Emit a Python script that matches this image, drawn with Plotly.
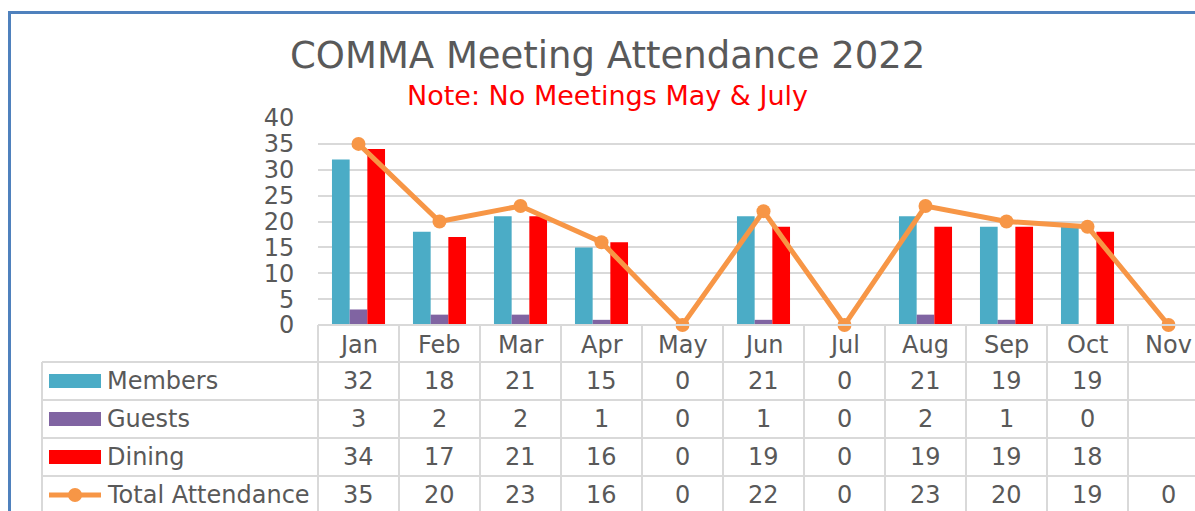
import plotly.graph_objects as go

W, H = 1195, 511

months = ["Jan", "Feb", "Mar", "Apr", "May", "Jun", "Jul", "Aug", "Sep", "Oct", "Nov"]
members = [32, 18, 21, 15, 0, 21, 0, 21, 19, 19, None]
guests = [3, 2, 2, 1, 0, 1, 0, 2, 1, 0, None]
dining = [34, 17, 21, 16, 0, 19, 0, 19, 19, 18, None]
total = [35, 20, 23, 16, 0, 22, 0, 23, 20, 19, 0]

series_names = ["Members", "Guests", "Dining", "Total Attendance"]
colors = ["#4BACC6", "#8064A2", "#FF0000", "#F79646"]

title_text = "COMMA Meeting Attendance 2022"
subtitle_text = "Note: No Meetings May & July"

FONT = "DejaVu Sans"
TXT = "#595959"
GRID = "#D9D9D9"
FS = 24


def px(x):
    return x / W


def py(y):
    return 1 - y / H


# plot area geometry (pixels)
PL, PT, PB = 318, 118, 325
CW = 81.0  # category width in px
x_hi = -0.5 + (W - PL) / CW

fig = go.Figure()
for name, vals, col in zip(series_names[:3], [members, guests, dining], colors[:3]):
    fig.add_trace(go.Bar(x=months, y=vals, name=name, marker=dict(color=col, line=dict(width=0)),
                         showlegend=False, hoverinfo="skip"))
fig.add_trace(go.Scatter(x=months, y=total, name=series_names[3], mode="lines+markers",
                         line=dict(color=colors[3], width=5),
                         marker=dict(color=colors[3], size=14),
                         cliponaxis=False, showlegend=False, hoverinfo="skip"))

shapes = []
annotations = []

# Outer blue border (top and left)
shapes.append(dict(type="line", xref="paper", yref="paper", x0=px(8), x1=1.0, y0=py(12.5), y1=py(12.5),
                   line=dict(color="#4F81BD", width=3)))
shapes.append(dict(type="line", xref="paper", yref="paper", x0=px(9.5), x1=px(9.5), y0=py(11), y1=0,
                   line=dict(color="#4F81BD", width=3)))

# Data table
row_tops = [362, 400, 438, 476]
row_h = 38
tline = dict(color=GRID, width=2)
shapes.append(dict(type="line", xref="paper", yref="paper", x0=px(PL), x1=1.0, y0=py(PB), y1=py(PB), line=tline))
for rt in row_tops:
    shapes.append(dict(type="line", xref="paper", yref="paper", x0=px(42), x1=1.0, y0=py(rt), y1=py(rt), line=tline))
shapes.append(dict(type="line", xref="paper", yref="paper", x0=px(42), x1=px(42), y0=py(362), y1=0, line=tline))
for i in range(len(months)):
    shapes.append(dict(type="line", xref="x", yref="paper", x0=i + 0.5, x1=i + 0.5, y0=py(PB), y1=0, line=tline))
shapes.append(dict(type="line", xref="paper", yref="paper", x0=px(PL), x1=px(PL), y0=py(PB), y1=0, line=tline))

for i, m in enumerate(months):
    annotations.append(dict(x=i, y=py(345), xref="x", yref="paper", text=m, showarrow=False,
                            font=dict(family=FONT, size=FS, color=TXT), xanchor="center", yanchor="middle"))

for r, (name, vals, col) in enumerate(zip(series_names, [members, guests, dining, total], colors)):
    yc = row_tops[r] + row_h / 2
    annotations.append(dict(x=px(105), y=py(yc), xref="paper", yref="paper", text=name, showarrow=False,
                            font=dict(family=FONT, size=FS, color=TXT), xanchor="left", yanchor="middle"))
    if r < 3:
        shapes.append(dict(type="rect", xref="paper", yref="paper", x0=px(49), x1=px(101),
                           y0=py(yc - 7), y1=py(yc + 7), fillcolor=col, line=dict(width=0)))
    else:
        shapes.append(dict(type="line", xref="paper", yref="paper", x0=px(49), x1=px(101),
                           y0=py(yc), y1=py(yc), line=dict(color=col, width=5)))
        shapes.append(dict(type="circle", xref="paper", yref="paper", x0=px(68), x1=px(82),
                           y0=py(yc - 7), y1=py(yc + 7), fillcolor=col, line=dict(width=0)))
    for i, v in enumerate(vals):
        if v is None:
            continue
        annotations.append(dict(x=i, y=py(yc), xref="x", yref="paper", text=str(v), showarrow=False,
                                font=dict(family=FONT, size=FS, color=TXT), xanchor="center", yanchor="middle"))

annotations.append(dict(x=px(607), y=py(55), xref="paper", yref="paper", text=title_text, showarrow=False,
                        font=dict(family=FONT, size=37, color=TXT), xanchor="center", yanchor="middle"))
annotations.append(dict(x=px(607), y=py(95), xref="paper", yref="paper", text=subtitle_text, showarrow=False,
                        font=dict(family=FONT, size=27, color="#FF0000"), xanchor="center", yanchor="middle"))

fig.update_layout(
    width=W, height=H, autosize=False,
    margin=dict(l=0, r=0, t=0, b=0, pad=0, autoexpand=False),
    paper_bgcolor="white", plot_bgcolor="white",
    barmode="group", bargap=0.345, bargroupgap=0,
    showlegend=False, hovermode=False,
    shapes=shapes, annotations=annotations,
    xaxis=dict(domain=[px(PL), 1.0], range=[-0.5, x_hi], showticklabels=False, showgrid=False,
               zeroline=False, showline=False, ticks="", automargin=False),
    yaxis=dict(domain=[py(PB), py(PT)], range=[0, 40], dtick=5, tick0=0, showgrid=True,
               gridcolor=GRID, gridwidth=2, zeroline=False, showline=False, automargin=False,
               ticks="outside", ticklen=18, tickcolor="rgba(0,0,0,0)",
               tickfont=dict(family=FONT, size=FS, color=TXT)),
)

fig.write_html("out.html", config={"displayModeBar": False},
               post_script="document.body.style.margin='0';document.body.style.overflow='hidden';")
